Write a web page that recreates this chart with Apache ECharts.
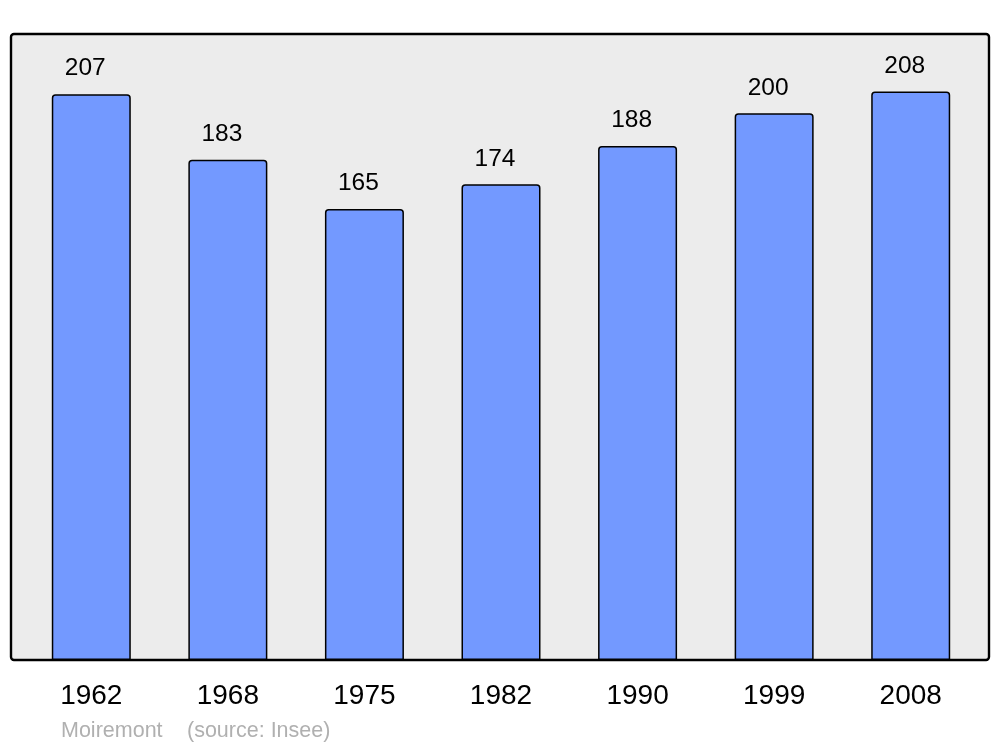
<!DOCTYPE html>
<html><head><meta charset="utf-8">
<script src="https://cdn.jsdelivr.net/npm/echarts@6/dist/echarts.min.js"></script>
<style>html,body{margin:0;padding:0;background:#fff}#c{width:1000px;height:747px}</style>
</head><body><div id="c"></div>
<script>
const years = ['1962','1968','1975','1982','1990','1999','2008'];
const population = [207,183,165,174,188,200,208];
const placeName = 'Moiremont';
const sourceNote = '(source: Insee)';
const chart = echarts.init(document.getElementById('c'));
chart.setOption({
  animation: false,
  backgroundColor: '#ffffff',
  textStyle: {fontFamily: 'Liberation Sans, Arial, sans-serif'},
  graphic: [
    {type:'rect', z:-10, shape:{x:11,y:34,width:978,height:626,r:3},
     style:{fill:'#ececec', stroke:'#000', lineWidth:2.4}},
    {type:'text', left:61, top:720, z:10,
     style:{text:placeName, fill:'#b0b0b0', font:'21.5px "Liberation Sans", Arial, sans-serif'}},
    {type:'text', left:187, top:720, z:10,
     style:{text:sourceNote, fill:'#b0b0b0', font:'21.5px "Liberation Sans", Arial, sans-serif'}}
  ],
  grid: {left:23, right:21, top:34, bottom:87},
  xAxis: {type:'category', data: years,
    axisLine:{show:false}, axisTick:{show:false},
    axisLabel:{color:'#000', fontSize:28, margin:22, fontFamily:'Liberation Sans'}},
  yAxis: {type:'value', min:0, max:229, show:false, splitLine:{show:false}},
  series: [{type:'bar', data: population, barWidth:79,
    itemStyle:{color:'#7399ff', borderColor:'#000', borderWidth:1.5, borderRadius:[3,3,0,0]},
    label:{show:true, position:'top', distance:13, offset:[-6,0], color:'#000', fontSize:24.5, fontFamily:'Liberation Sans'}}]
});
</script></body></html>
